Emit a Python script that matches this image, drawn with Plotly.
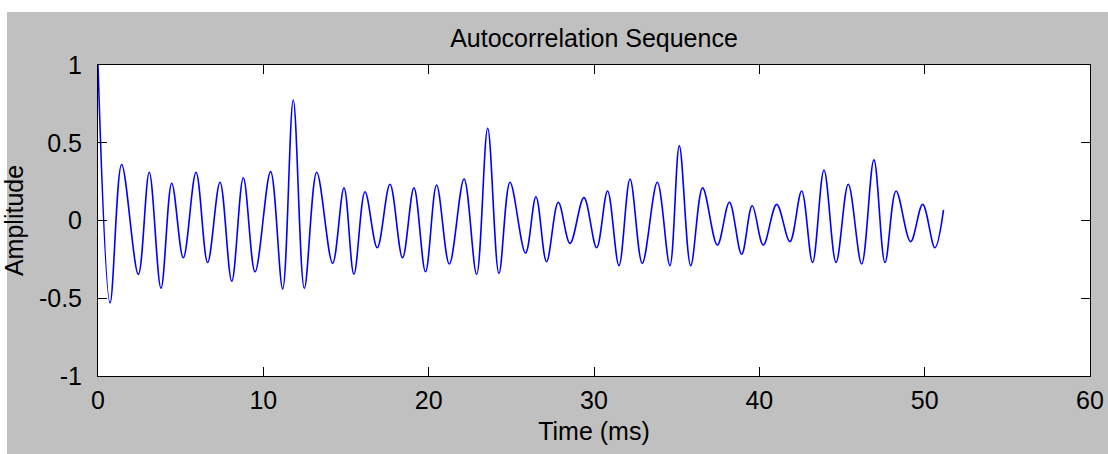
import plotly.graph_objects as go

# Local extrema of the autocorrelation sequence (time in ms, amplitude)
time_ms = [0, 0.73, 1.43, 2.44, 3.10, 3.81, 4.46, 5.16, 5.93, 6.63, 7.38, 8.09, 8.79, 9.50,
           10.44, 11.17, 11.81, 12.48, 13.23, 14.19, 14.88, 15.48, 16.15, 16.89, 17.66, 18.42,
           19.11, 19.81, 20.48, 21.25, 22.14, 22.90, 23.57, 24.25, 24.92, 25.86, 26.49, 27.13,
           27.84, 28.55, 29.39, 30.16, 30.82, 31.51, 32.18, 32.92, 33.83, 34.59, 35.16, 35.85,
           36.57, 37.46, 38.19, 38.93, 39.57, 40.24, 41.05, 41.85, 42.56, 43.22, 43.91, 44.64,
           45.38, 46.19, 46.93, 47.60, 48.27, 49.15, 49.88, 50.62, 51.14]
amplitude = [1.0, -0.53, 0.36, -0.346, 0.31, -0.436, 0.24, -0.24, 0.31, -0.27, 0.246, -0.39,
             0.275, -0.33, 0.314, -0.44, 0.775, -0.436, 0.31, -0.275, 0.21, -0.346, 0.185,
             -0.175, 0.233, -0.24, 0.21, -0.33, 0.228, -0.28, 0.267, -0.346, 0.593, -0.34,
             0.246, -0.21, 0.153, -0.265, 0.117, -0.147, 0.147, -0.175, 0.19, -0.29, 0.267,
             -0.275, 0.246, -0.29, 0.48, -0.29, 0.21, -0.158, 0.117, -0.217, 0.095, -0.158,
             0.104, -0.136, 0.19, -0.27, 0.325, -0.27, 0.233, -0.28, 0.39, -0.27, 0.19,
             -0.136, 0.104, -0.175, 0.068]

x_ticks = [0, 10, 20, 30, 40, 50, 60]
y_ticks = [-1, -0.5, 0, 0.5, 1]
y_tick_labels = ["-1", "-0.5", "0", "0.5", "1"]

FONT = "Liberation Sans, Arial, sans-serif"
W, H = 1108, 454
L, R, T, B = 98, 18, 65, 78
PW, PH = W - L - R, H - T - B

fig = go.Figure()
fig.add_trace(go.Scatter(
    x=time_ms, y=amplitude, mode="lines",
    line=dict(color="#0000ff", width=1.6, shape="spline", smoothing=1.0),
    showlegend=False, hoverinfo="x+y",
))

def px_x(p):
    return (p - L) / PW

def px_y(p):
    return (H - B - p) / PH

fig.update_layout(
    width=W, height=H,
    margin=dict(l=L, r=R, t=T, b=B, autoexpand=False),
    paper_bgcolor="#c0c0c0",
    plot_bgcolor="#ffffff",
    font=dict(family=FONT, size=25, color="#000000"),
    title=dict(text="Autocorrelation Sequence", x=0.5 * (L + W - R) / W, xanchor="center",
               y=1 - 38 / H, yanchor="middle", yref="container",
               font=dict(family=FONT, size=25, color="#000000")),
    xaxis=dict(range=[0, 60], tickvals=x_ticks, ticks="inside", ticklen=9, tickcolor="#000000",
               showline=True, linecolor="#000000", linewidth=1, mirror="ticks",
               showgrid=False, zeroline=False, tickfont=dict(size=25),
               ticklabelstandoff=2,
               title=dict(text="Time (ms)", standoff=9, font=dict(size=25))),
    yaxis=dict(range=[-1, 1], tickvals=y_ticks, ticktext=y_tick_labels, ticks="inside",
               ticklen=9, tickcolor="#000000",
               showline=True, linecolor="#000000", linewidth=1, mirror="ticks",
               showgrid=False, zeroline=False, tickfont=dict(size=25),
               ticklabelstandoff=10,
               title=dict(text="Amplitude", standoff=9, font=dict(size=25))),
    shapes=[
        dict(type="rect", xref="paper", yref="paper", x0=px_x(-5), x1=px_x(W + 5),
             y0=px_y(12), y1=px_y(-5), fillcolor="#ffffff", line=dict(width=0), layer="below"),
        dict(type="rect", xref="paper", yref="paper", x0=px_x(-5), x1=px_x(7),
             y0=px_y(H + 5), y1=px_y(-5), fillcolor="#ffffff", line=dict(width=0), layer="below"),
    ],
)

fig.write_html("out.html")
